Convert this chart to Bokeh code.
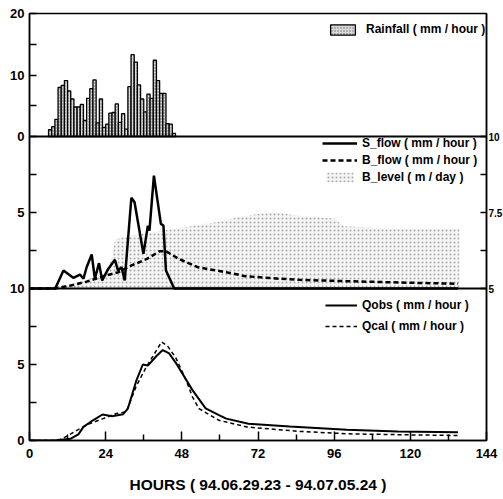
from bokeh.plotting import figure
from bokeh.models import Range1d, LinearAxis, FixedTicker, Legend, LegendItem, Span
from bokeh.embed import file_html
from bokeh.resources import INLINE

FONT = "Liberation Sans"

# ---------------- data ----------------
hour_ticks = [0, 24, 48, 72, 96, 120, 144]
hour_minor = [12, 36, 60, 84, 108, 132]
x_title = "HOURS ( 94.06.29.23 - 94.07.05.24 )"

rain_hours = list(range(6, 46))
rain_mm = [1.1, 1.6, 2.8, 8.0, 8.3, 9.1, 7.4, 6.1, 4.8, 4.8,
           5.2, 2.6, 6.2, 7.8, 9.2, 2.2, 6.1, 1.5, 2.0, 3.8,
           3.9, 5.3, 2.3, 3.7, 1.2, 8.1, 13.3, 12.1, 8.4, 6.1,
           4.0, 6.9, 6.2, 12.4, 9.1, 7.0, 7.0, 2.1, 2.0, 0.5]

sflow_h = [0, 8.1, 10.7, 13.8, 15.9, 17.0, 18.0, 19.6, 20.6, 21.9, 22.9, 24.8, 26.9,
           27.9, 29.0, 30.0, 32.1, 33.1, 35.9, 37.3, 37.8, 39.2, 41.4, 42.2, 43.0, 45.6, 135]
sflow_v = [0, 0, 1.18, 0.70, 0.92, 0.64, 1.4, 2.24, 0.64, 1.67, 0.53, 1.29, 1.89,
           1.18, 1.4, 0.53, 5.97, 5.68, 2.28, 4.14, 3.8, 7.43, 4.25, 4.14, 1.18, 0, 0]

bflow_h = [0, 8, 13, 18, 24, 28, 32, 37, 41, 43, 47, 53, 62, 68, 79, 85, 100, 120, 135]
bflow_v = [0, 0, 0.2, 0.45, 0.85, 1.07, 1.5, 1.95, 2.45, 2.45, 1.95, 1.4, 1.07, 0.81,
           0.64, 0.57, 0.48, 0.38, 0.31]

level_h = [0, 12, 18, 24, 26, 27, 30, 36, 42, 48, 54, 60, 66, 72, 78, 84, 90, 96, 99,
           108, 120, 130, 135.5]
level_v = [5.0, 5.1, 5.3, 5.5, 6.0, 6.6, 6.7, 6.8, 6.9, 7.0, 7.1, 7.2, 7.35, 7.45, 7.5,
           7.4, 7.35, 7.3, 7.05, 7.0, 6.95, 6.95, 6.95]

qobs_h = [0, 8, 10, 13, 15.4, 17, 20, 23, 26, 29.5, 31, 33.6, 35.7, 37.3, 40, 42, 44,
          46.1, 51.3, 55.5, 59.7, 62, 69, 82, 100, 116, 135]
qobs_v = [0, 0, 0.05, 0.12, 0.4, 0.9, 1.33, 1.71, 1.6, 1.73, 2.1, 3.9, 5.0, 4.93, 5.56,
          5.95, 5.73, 5.11, 3.33, 2.11, 1.67, 1.44, 1.1, 0.92, 0.71, 0.6, 0.55]

qcal_h = [0, 9, 11.2, 14.9, 19, 23.2, 27.4, 30.5, 33.6, 36.8, 39.9, 41.6, 43.5, 46.1,
          49.3, 51.3, 53.4, 59.7, 68.5, 85, 100.3, 120, 135]
qcal_v = [0, 0, 0.22, 0.67, 1.11, 1.44, 1.78, 1.89, 3.56, 4.84, 5.89, 6.49, 6.22, 5.44,
          4.0, 2.89, 2.1, 1.33, 0.89, 0.6, 0.44, 0.37, 0.33]

# panel scales
RAIN_MAX, FLOW_MAX, Q_MAX = 20, 10, 10
LEVEL_MIN, LEVEL_MAX = 5, 10

# ---------------- layout (three stacked panels in one frame) ----------------
H_TOP, H_MID, H_BOT = 123, 152, 152
H_ALL = H_TOP + H_MID + H_BOT

q_end = Q_MAX * H_ALL / H_BOT
rain_rng = Range1d(-RAIN_MAX * (H_BOT + H_MID) / H_TOP, RAIN_MAX)
flow_rng = Range1d(-FLOW_MAX * H_BOT / H_MID, FLOW_MAX + FLOW_MAX * H_TOP / H_MID)
lspan = LEVEL_MAX - LEVEL_MIN
level_rng = Range1d(LEVEL_MIN - lspan * H_BOT / H_MID, LEVEL_MAX + lspan * H_TOP / H_MID)


def flow_to_q(v):
    return (H_BOT + v * H_MID / FLOW_MAX) * Q_MAX / H_BOT


def rain_to_q(v):
    return (H_BOT + H_MID + v * H_TOP / RAIN_MAX) * Q_MAX / H_BOT


p = figure(frame_width=457, frame_height=H_ALL,
           x_range=Range1d(0, 144), y_range=Range1d(0, q_end),
           output_backend="svg", toolbar_location=None,
           min_border_left=29, min_border_right=17, min_border_top=13, min_border_bottom=0)
p.extra_y_ranges = {"rain": rain_rng, "flow": flow_rng, "level": level_rng}
p.grid.grid_line_color = None
p.outline_line_color = "black"
p.outline_line_width = 1.5
p.background_fill_color = "white"
p.border_fill_color = "white"

# panel separators
p.add_layout(Span(location=0, y_range_name="rain", dimension="width",
                  line_color="black", line_width=2))
p.add_layout(Span(location=0, y_range_name="flow", dimension="width",
                  line_color="black", line_width=2))

# left axis: labels of all three panels
left_major = [0, 5, 10, flow_to_q(5), rain_to_q(0), rain_to_q(10), rain_to_q(20)]
left_labels = ["0", "5", "10", "5", "0", "10", "20"]
left_minor = [2.5, 7.5, flow_to_q(2.5), flow_to_q(7.5), rain_to_q(5), rain_to_q(15)]

ax = p.yaxis[0]
ax.ticker = FixedTicker(ticks=left_major, minor_ticks=left_minor)
ax.major_label_overrides = dict(zip(left_major, left_labels))
ax.axis_line_width = 1.5
ax.major_tick_in = 7
ax.major_tick_out = 0
ax.minor_tick_in = 7
ax.minor_tick_out = 0
ax.major_tick_line_width = 1.5
ax.minor_tick_line_width = 1.5
ax.major_label_standoff = 5
ax.major_label_text_font = FONT
ax.major_label_text_font_style = "bold"
ax.major_label_text_font_size = "13px"
ax.major_label_text_color = "black"

# right axis: B_level scale of the middle panel
level_ticks = [5, 7.5, 10]
rax = LinearAxis(y_range_name="level",
                 ticker=FixedTicker(ticks=level_ticks, minor_ticks=[6.25, 8.75]),
                 major_label_overrides={5: "5", 7.5: "7.5", 10: "10"})
rax.axis_line_width = 1.5
rax.major_tick_in = 6
rax.major_tick_out = 0
rax.minor_tick_in = 6
rax.minor_tick_out = 0
rax.major_tick_line_width = 1.5
rax.minor_tick_line_width = 1.5
rax.major_label_standoff = 2
rax.major_label_text_font = FONT
rax.major_label_text_font_style = "bold"
rax.major_label_text_font_size = "10px"
rax.major_label_text_color = "black"
p.add_layout(rax, "right")

# bottom x axis
xa = p.xaxis[0]
xa.ticker = FixedTicker(ticks=hour_ticks, minor_ticks=hour_minor)
xa.axis_line_width = 1.5
xa.major_tick_in = 9
xa.major_tick_out = 0
xa.minor_tick_in = 6
xa.minor_tick_out = 0
xa.major_tick_line_width = 1.5
xa.minor_tick_line_width = 1.5
xa.major_label_standoff = 8
xa.major_label_text_font = FONT
xa.major_label_text_font_style = "bold"
xa.major_label_text_font_size = "13px"
xa.major_label_text_color = "black"
xa.axis_label = x_title
xa.axis_label_text_font = FONT
xa.axis_label_text_font_style = "bold"
xa.axis_label_text_font_size = "15.5px"
xa.axis_label_text_color = "black"
xa.axis_label_standoff = 15


def make_legend(items, loc, gw, gh, spacing, standoff):
    lg = Legend(items=items, location=loc)
    lg.background_fill_alpha = 0
    lg.border_line_alpha = 0
    lg.padding = 0
    lg.margin = 0
    lg.spacing = spacing
    lg.glyph_width = gw
    lg.glyph_height = gh
    lg.label_height = gh
    lg.label_standoff = standoff
    lg.label_text_font = FONT
    lg.label_text_font_style = "bold"
    lg.label_text_font_size = "12px"
    lg.label_text_color = "black"
    return lg


# ---- top panel: rainfall ----
bars = p.vbar(x=[h + 0.5 for h in rain_hours], top=rain_mm, width=1.0, bottom=0,
              y_range_name="rain",
              fill_color="#d9d9d9", hatch_pattern=".", hatch_color="#6a6a6a",
              hatch_scale=3, hatch_weight=1, line_color="black", line_width=1.3)

# ---- middle panel: flows and level ----
lev = p.varea(x=level_h, y1=LEVEL_MIN, y2=level_v, y_range_name="level",
              fill_color="#f5f5f5", hatch_pattern=".", hatch_color="#a8a8a8",
              hatch_scale=4, hatch_weight=1)
sf = p.line(sflow_h, sflow_v, y_range_name="flow", line_color="black", line_width=2.5)
bf = p.line(bflow_h, bflow_v, y_range_name="flow", line_color="black", line_width=2.5,
            line_dash="5 3")

# ---- bottom panel: observed vs calculated ----
qo = p.line(qobs_h, qobs_v, line_color="black", line_width=2)
qc = p.line(qcal_h, qcal_v, line_color="black", line_width=1.5, line_dash="4 3")

p.add_layout(make_legend([LegendItem(label="Rainfall ( mm / hour )", renderers=[bars])],
                         (298, H_BOT + H_MID + 100), 31, 13, 3, 8))
p.add_layout(make_legend([LegendItem(label="S_flow ( mm / hour )", renderers=[sf]),
                          LegendItem(label="B_flow ( mm / hour )", renderers=[bf]),
                          LegendItem(label="B_level ( m / day )", renderers=[lev])],
                         (293, H_BOT + 104), 35, 12, 3, 5))
p.add_layout(make_legend([LegendItem(label="Qobs ( mm / hour )", renderers=[qo]),
                          LegendItem(label="Qcal ( mm / hour )", renderers=[qc])],
                         (296, 107), 32, 12, 7, 5))

open("out.html", "w").write(file_html(p, INLINE))
